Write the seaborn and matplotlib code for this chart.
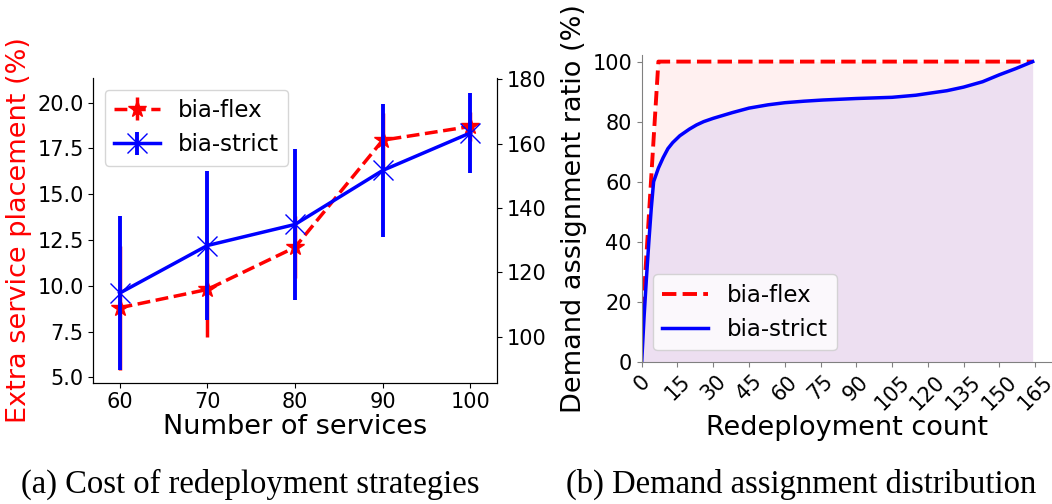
import matplotlib
matplotlib.use("Agg")
import matplotlib.pyplot as plt
import numpy as np
import pandas as pd
import seaborn as sns

# (a) extra service placement per number of services, mean and spread
services = [60, 70, 80, 90, 100]
flex_mean = [8.8, 9.8, 12.1, 17.95, 18.7]
flex_err = [3.4, 2.6, 1.7, 1.5, 0.8]
strict_mean = [9.6, 12.2, 13.35, 16.3, 18.35]
strict_err = [4.2, 4.05, 4.1, 3.65, 2.2]

# (b) cumulative demand assignment ratio against redeployment count
flex_count = [0, 7, 164]
flex_ratio = [10, 100, 100]
strict_count = [0, 1, 2, 3, 4, 5, 7, 9, 11, 13, 16, 20, 23, 26, 30, 38, 45, 53,
                60, 68, 76, 90, 105, 115, 121, 128, 135, 143, 150, 157, 164]
strict_ratio = [0, 15, 28, 40, 51, 60, 64.5, 68, 71, 73, 75.3, 77.5, 78.9, 80.0,
                81.1, 83.0, 84.5, 85.6, 86.3, 86.8, 87.2, 87.7, 88.1, 88.8, 89.5,
                90.3, 91.5, 93.3, 95.6, 97.7, 100]
count_ticks = list(range(0, 166, 15))

W, H = 1052, 504
fig = plt.figure(figsize=(W / 100, H / 100), dpi=100)

TICK_FS = 15
LABEL_FS = 19.5
LEG_FS = 16.5

# ---------------- panel (a) ----------------
ax1 = fig.add_axes([93.3 / W, 1 - 382.7 / H, (496.7 - 93.3) / W, (382.7 - 78.3) / H])
ax1.errorbar(services, flex_mean, yerr=flex_err, fmt="--", color="red",
             marker="*", markersize=13, linewidth=2.5, elinewidth=2.5,
             label="bia-flex", zorder=2)
ax1.errorbar(services, strict_mean, yerr=strict_err, fmt="-", color="blue",
             marker="x", markersize=14, markeredgewidth=1.0, linewidth=2.5,
             elinewidth=2.8, label="bia-strict", zorder=3)
ax1.set_xlim(57.0, 103.0)
ax1.set_ylim(4.71, 21.33)
ax1.set_xticks(services)
ax1.set_yticks([5.0, 7.5, 10.0, 12.5, 15.0, 17.5, 20.0])
ax1.set_yticklabels(["5.0", "7.5", "10.0", "12.5", "15.0", "17.5", "20.0"])
ax1.tick_params(labelsize=TICK_FS)
ax1.set_xlabel("Number of services", fontsize=LABEL_FS, labelpad=1)
ax1.set_ylabel("Extra service placement (%)", fontsize=LABEL_FS, color="red")
ax1.spines["top"].set_visible(False)
ax1.legend(loc="upper left", fontsize=LEG_FS)

ax1r = ax1.twinx()
ax1r.set_ylim(85.7, 180.3)
ax1r.set_yticks([100, 120, 140, 160, 180])
ax1r.tick_params(labelsize=TICK_FS)
ax1r.spines["top"].set_visible(False)

# ---------------- panel (b) ----------------
ax2 = fig.add_axes([641.7 / W, 1 - 361.7 / H, (W - 641.7) / W, (361.7 - 55) / H])
flex_df = pd.DataFrame({"count": flex_count, "ratio": flex_ratio})
strict_df = pd.DataFrame({"count": strict_count, "ratio": strict_ratio})
ax2.fill_between(flex_df["count"], flex_df["ratio"], color="red", alpha=0.06, linewidth=0)
ax2.fill_between(strict_df["count"], strict_df["ratio"], color="blue", alpha=0.07, linewidth=0)
sns.lineplot(data=flex_df, x="count", y="ratio", ax=ax2, color="red",
             linestyle="--", linewidth=2.8, label="bia-flex")
sns.lineplot(data=strict_df, x="count", y="ratio", ax=ax2, color="blue",
             linewidth=2.5, label="bia-strict")
ax2.set_xlim(0, 172.1)
ax2.set_ylim(0, 102.2)
ax2.set_xticks(count_ticks)
ax2.set_xticklabels([str(t) for t in count_ticks], rotation=45)
ax2.set_yticks([0, 20, 40, 60, 80, 100])
ax2.tick_params(labelsize=TICK_FS, color="gray")
ax2.set_xlabel("Redeployment count", fontsize=LABEL_FS, labelpad=1)
ax2.set_ylabel("Demand assignment ratio (%)", fontsize=LABEL_FS)
sns.despine(ax=ax2)
for side in ("left", "bottom"):
    ax2.spines[side].set_color("gray")
ax2.legend(loc="lower left", fontsize=LEG_FS)

# sub-captions
fig.text(250 / W, 1 - 484 / H, "(a) Cost of redeployment strategies",
         ha="center", va="center", fontsize=23.5, family="Liberation Serif")
fig.text(801 / W, 1 - 484 / H, "(b) Demand assignment distribution",
         ha="center", va="center", fontsize=23.5, family="Liberation Serif")

fig.savefig("out.png", dpi=100)
